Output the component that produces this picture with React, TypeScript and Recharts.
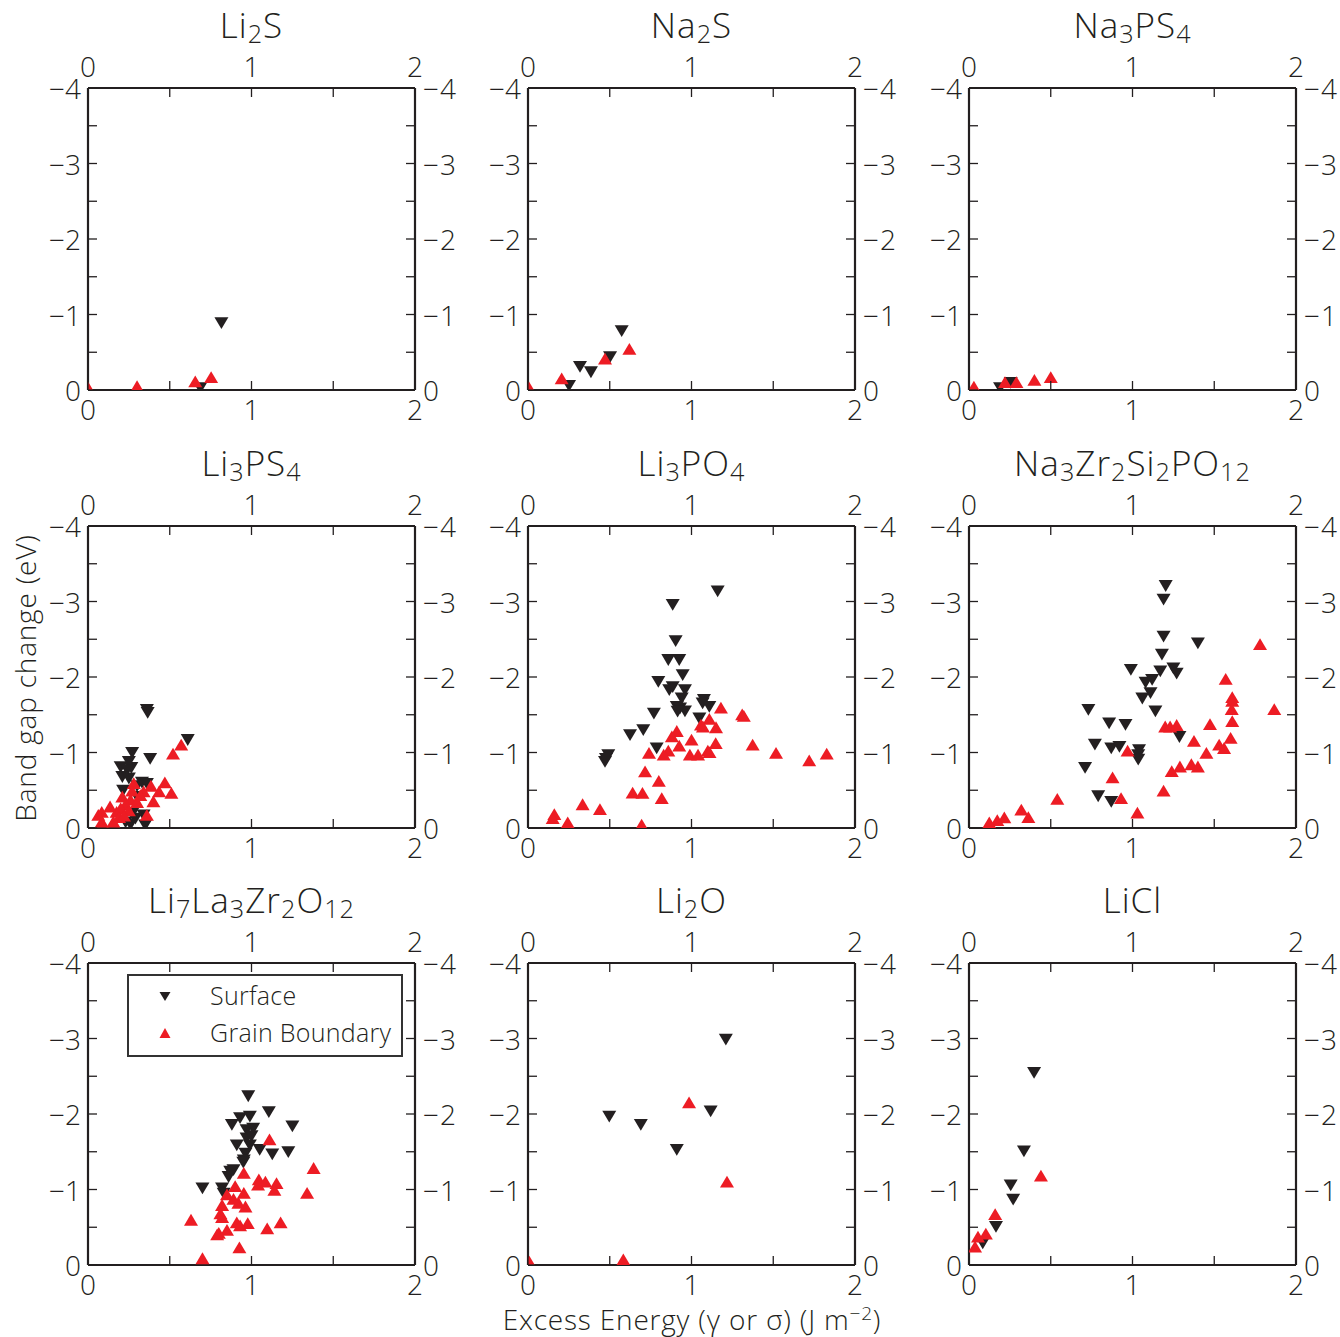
import React from 'react';
import { ScatterChart, Scatter, XAxis, YAxis } from 'recharts';

type P = [number, number];

const panelTitles = ['Li2S', 'Na2S', 'Na3PS4', 'Li3PS4', 'Li3PO4', 'Na3Zr2Si2PO12', 'Li7La3Zr2O12', 'Li2O', 'LiCl'];
const xTicks = [0, 0.5, 1, 1.5, 2];
const yTicks = [-4, -3.5, -3, -2.5, -2, -1.5, -1, -0.5, 0];
const xAxisLabel = 'Excess Energy (γ or σ) (J m';
const yAxisLabel = 'Band gap change (eV)';
const legendLabels = ['Surface', 'Grain Boundary'];

const li2sSurface: P[] = [[0.816, -0.9], [0.687, -0.04]];
const li2sGB: P[] = [[0.656, -0.1], [0.753, -0.155], [0.3, -0.035], [0.0, -0.02]];

const na2sSurface: P[] = [[0.573, -0.795], [0.502, -0.45], [0.318, -0.32], [0.385, -0.25], [0.251, -0.07]];
const na2sGB: P[] = [[0.62, -0.53], [0.471, -0.4], [0.206, -0.14], [0.006, -0.02]];

const na3ps4Surface: P[] = [[0.255, -0.11], [0.19, -0.04]];
const na3ps4GB: P[] = [[0.03, -0.03], [0.22, -0.09], [0.29, -0.09], [0.4, -0.12], [0.5, -0.155]];

const li3ps4Surface: P[] = [
  [0.36, -1.58], [0.365, -1.54], [0.61, -1.18], [0.27, -1.01], [0.38, -0.93], [0.2, -0.82], [0.25, -0.89],
  [0.265, -0.81], [0.21, -0.69], [0.25, -0.67], [0.33, -0.615], [0.36, -0.6], [0.215, -0.51], [0.3, -0.425],
  [0.34, -0.18], [0.29, -0.14], [0.23, -0.09], [0.35, -0.05], [0.26, -0.06], [0.24, -0.78], [0.3, -0.57], [0.27, -0.2],
];
const li3ps4GB: P[] = [
  [0.57, -1.09], [0.52, -0.97], [0.47, -0.59], [0.385, -0.545], [0.28, -0.58], [0.435, -0.47], [0.51, -0.45],
  [0.34, -0.47], [0.21, -0.4], [0.26, -0.36], [0.4, -0.34], [0.135, -0.27], [0.084, -0.2], [0.063, -0.16],
  [0.175, -0.2], [0.36, -0.16], [0.084, -0.07], [0.155, -0.07], [0.23, -0.3], [0.3, -0.33], [0.2, -0.25],
  [0.25, -0.22], [0.19, -0.13], [0.32, -0.42], [0.27, -0.48], [0.22, -0.15],
];

const li3po4Surface: P[] = [
  [1.16, -3.15], [0.885, -2.97], [0.903, -2.49], [0.858, -2.24], [0.925, -2.24], [0.946, -2.04], [0.797, -1.95],
  [0.885, -1.88], [0.864, -1.84], [0.96, -1.84], [0.94, -1.73], [1.076, -1.71], [1.068, -1.665], [1.109, -1.62],
  [0.91, -1.62], [0.93, -1.6], [0.96, -1.56], [0.915, -1.555], [0.77, -1.53], [1.048, -1.465], [0.705, -1.31],
  [0.624, -1.245], [0.787, -1.07], [0.491, -0.98], [0.477, -0.93], [0.471, -0.89],
];
const li3po4GB: P[] = [
  [1.18, -1.58], [1.31, -1.49], [1.32, -1.47], [1.109, -1.43], [1.058, -1.355], [1.07, -1.33], [1.15, -1.32],
  [0.91, -1.27], [0.88, -1.2], [1.0, -1.156], [1.148, -1.11], [1.374, -1.09], [0.925, -1.076], [0.858, -1.01],
  [1.1, -1.01], [0.74, -0.98], [1.517, -0.98], [0.83, -0.957], [0.99, -0.957], [1.04, -0.957], [1.827, -0.97],
  [1.11, -0.99], [1.72, -0.88], [0.716, -0.735], [0.8, -0.61], [0.64, -0.455], [0.7, -0.45], [0.818, -0.38],
  [0.334, -0.3], [0.44, -0.235], [0.161, -0.17], [0.151, -0.115], [0.243, -0.06], [0.695, -0.03],
];

const nzspSurface: P[] = [
  [1.203, -3.22], [1.19, -3.04], [1.19, -2.55], [1.4, -2.46], [1.18, -2.31], [0.99, -2.11], [1.17, -2.09],
  [1.25, -2.13], [1.27, -2.06], [1.12, -1.976], [1.08, -1.94], [1.11, -1.8], [1.06, -1.73], [0.73, -1.58],
  [1.14, -1.56], [0.857, -1.4], [0.957, -1.38], [1.287, -1.22], [0.77, -1.12], [0.87, -1.07], [0.92, -1.09],
  [1.04, -1.045], [1.035, -0.98], [1.035, -0.92], [0.71, -0.81], [0.79, -0.435], [0.87, -0.36],
];
const nzspGB: P[] = [
  [1.78, -2.42], [1.867, -1.56], [1.57, -1.96], [1.61, -1.72], [1.61, -1.67], [1.607, -1.56], [1.61, -1.4],
  [1.474, -1.36], [1.2, -1.33], [1.23, -1.33], [1.27, -1.35], [1.6, -1.18], [1.376, -1.14], [1.53, -1.09],
  [1.56, -1.045], [0.97, -1.01], [1.452, -0.98], [1.36, -0.83], [1.4, -0.8], [1.29, -0.8], [1.24, -0.74],
  [0.878, -0.655], [1.19, -0.48], [0.93, -0.38], [0.54, -0.37], [1.03, -0.19], [0.32, -0.23], [0.363, -0.13],
  [0.216, -0.125], [0.173, -0.09], [0.124, -0.06],
];

const llzoSurface: P[] = [
  [0.98, -2.25], [1.106, -2.04], [0.93, -1.96], [0.99, -1.98], [1.25, -1.85], [0.88, -1.87], [0.97, -1.8],
  [1.01, -1.82], [0.97, -1.69], [1.0, -1.72], [0.91, -1.6], [0.99, -1.6], [1.05, -1.54], [1.127, -1.48],
  [1.225, -1.51], [0.963, -1.49], [0.953, -1.4], [0.95, -1.37], [0.89, -1.27], [0.87, -1.25], [0.86, -1.18],
  [0.7, -1.03], [0.82, -1.03], [0.83, -0.96],
];
const llzoGB: P[] = [
  [1.11, -1.65], [1.38, -1.27], [0.953, -1.205], [1.045, -1.12], [1.085, -1.09], [1.153, -1.07], [1.04, -1.05],
  [1.14, -0.98], [0.9, -1.03], [1.34, -0.94], [0.85, -0.92], [0.953, -0.94], [0.92, -0.81], [0.89, -0.86],
  [0.963, -0.76], [0.82, -0.78], [0.81, -0.67], [0.82, -0.62], [0.63, -0.585], [0.91, -0.55], [0.977, -0.54],
  [1.178, -0.55], [0.93, -0.51], [1.096, -0.47], [0.85, -0.45], [0.8, -0.41], [0.79, -0.39], [0.926, -0.22],
  [0.7, -0.075],
];

const li2oSurface: P[] = [[1.21, -3.0], [0.497, -1.98], [0.69, -1.87], [1.117, -2.05], [0.91, -1.54]];
const li2oGB: P[] = [[0.985, -2.14], [1.217, -1.09], [0.583, -0.06], [0.008, -0.03]];

const liclSurface: P[] = [[0.398, -2.56], [0.336, -1.52], [0.255, -1.07], [0.27, -0.88], [0.165, -0.52], [0.084, -0.3]];
const liclGB: P[] = [[0.44, -1.17], [0.16, -0.66], [0.103, -0.4], [0.055, -0.36], [0.037, -0.23]];

const surfaceSets = [li2sSurface, na2sSurface, na3ps4Surface, li3ps4Surface, li3po4Surface, nzspSurface, llzoSurface, li2oSurface, liclSurface];
const gbSets = [li2sGB, na2sGB, na3ps4GB, li3ps4GB, li3po4GB, nzspGB, llzoGB, li2oGB, liclGB];

const FONT = "'Open Sans', Roboto, 'Liberation Sans', Arial, sans-serif";
const TEXT = '#231F20';
const BLACK = '#231F20';
const RED = '#ED1C24';
const TICK_FS = 28;

const colPlotLeft = [88, 528, 969];
const rowPlotTop = [88, 526, 963];
const PLOT_W = 327;
const PLOT_H = 302;
const M = { top: 58, right: 20, bottom: 10, left: 20 };
const AX = 40;
const AXH = 30;
const CHART_W = M.left + AX + PLOT_W + AX + M.right;
const CHART_H = M.top + AXH + PLOT_H + AXH + M.bottom;

const fmt = (v: number) => (Number.isInteger(v) ? (v < 0 ? '\u2212' + Math.abs(v) : String(v)) : '');

const makeTick = (side: 'top' | 'bottom' | 'left' | 'right') => (props: any) => {
  const { x, y, payload } = props;
  const v = payload.value as number;
  const label = fmt(v);
  const L = 9;
  let line: [number, number, number, number];
  let tx = x;
  let ty = y;
  let anchor: 'start' | 'middle' | 'end' = 'middle';
  if (side === 'bottom') { line = [x, y, x, y - L]; ty = y + 19; }
  else if (side === 'top') { line = [x, y, x, y + L]; ty = y - 22; }
  else if (side === 'left') { line = [x, y, x + L, y]; tx = x - 7; anchor = 'end'; }
  else { line = [x, y, x - L, y]; tx = x + 8; anchor = 'start'; }
  return (
    <g>
      <line x1={line[0]} y1={line[1]} x2={line[2]} y2={line[3]} stroke={BLACK} strokeWidth={1.3} />
      {label !== '' && (
        <text x={tx} y={ty} textAnchor={anchor} dominantBaseline="central" fontSize={TICK_FS}
          fontFamily={FONT} fontWeight={300} fill={TEXT} letterSpacing={side === 'right' ? 1 : 0}>{label}</text>
      )}
    </g>
  );
};

const DownTri = (props: any) => {
  const { cx, cy } = props;
  if (cx == null || cy == null) return <g />;
  return <polygon points={`${cx - 7},${cy - 4.8} ${cx + 7},${cy - 4.8} ${cx},${cy + 7}`} fill={BLACK} />;
};
const UpTri = (props: any) => {
  const { cx, cy } = props;
  if (cx == null || cy == null) return <g />;
  return <polygon points={`${cx - 7},${cy + 4.8} ${cx + 7},${cy + 4.8} ${cx},${cy - 7}`} fill={RED} />;
};
const NoShape = () => <g />;

const toObj = (arr: P[]) => arr.map(([x, y]) => ({ x, y }));

const Title = ({ name }: { name: string }) => {
  const parts = name.match(/[A-Za-z]+|\d+/g) || [];
  return (
    <span>
      {parts.map((p, i) =>
        /\d/.test(p) ? (
          <span key={i} style={{ fontSize: '0.72em', verticalAlign: '-0.18em', lineHeight: 0 }}>{p}</span>
        ) : (
          <span key={i}>{p}</span>
        )
      )}
    </span>
  );
};

const axisLine = { stroke: BLACK, strokeWidth: 2.2 };

const Panel = ({ idx }: { idx: number }) => {
  const col = idx % 3;
  const row = Math.floor(idx / 3);
  const left = colPlotLeft[col] - M.left - AX;
  const top = rowPlotTop[row] - M.top - AXH;
  const surf = toObj(surfaceSets[idx]);
  const gb = toObj(gbSets[idx]);
  return (
    <div style={{ position: 'absolute', left, top, width: CHART_W, height: CHART_H }}>
      <div style={{
        position: 'absolute', left: M.left + AX, width: PLOT_W, top: 9, textAlign: 'center',
        fontFamily: FONT, fontWeight: 300, fontSize: 35, letterSpacing: 1, color: TEXT, lineHeight: '32px',
        height: 32,
      }}>
        <Title name={panelTitles[idx]} />
      </div>
      <ScatterChart width={CHART_W} height={CHART_H} margin={M}>
        <XAxis xAxisId="b" dataKey="x" type="number" orientation="bottom" domain={[0, 2]} ticks={xTicks}
          allowDataOverflow height={AXH} tickSize={0} tickMargin={0} tickLine={false} axisLine={axisLine}
          tick={makeTick('bottom')} interval={0} />
        <XAxis xAxisId="t" dataKey="x" type="number" orientation="top" domain={[0, 2]} ticks={xTicks}
          allowDataOverflow height={AXH} tickSize={0} tickMargin={0} tickLine={false} axisLine={axisLine}
          tick={makeTick('top')} interval={0} />
        <YAxis yAxisId="l" dataKey="y" type="number" orientation="left" domain={[-4, 0]} ticks={yTicks} reversed
          allowDataOverflow width={AX} tickSize={0} tickMargin={0} tickLine={false} axisLine={axisLine}
          tick={makeTick('left')} interval={0} />
        <YAxis yAxisId="r" dataKey="y" type="number" orientation="right" domain={[-4, 0]} ticks={yTicks} reversed
          allowDataOverflow width={AX} tickSize={0} tickMargin={0} tickLine={false} axisLine={axisLine}
          tick={makeTick('right')} interval={0} />
        <Scatter data={surf} xAxisId="t" yAxisId="r" shape={NoShape} isAnimationActive={false} legendType="none" />
        <Scatter name="Surface" data={surf} xAxisId="b" yAxisId="l" shape={DownTri} isAnimationActive={false} />
        <Scatter name="Grain Boundary" data={gb} xAxisId="b" yAxisId="l" shape={UpTri} isAnimationActive={false} />
      </ScatterChart>
    </div>
  );
};

const LegendBox = () => (
  <div style={{
    position: 'absolute', left: 127, top: 974, width: 272, height: 79, border: '2px solid #333',
    background: '#fff', fontFamily: FONT, fontWeight: 300, fontSize: 25, letterSpacing: 0.3, color: TEXT,
  }}>
    <svg width={30} height={80} style={{ position: 'absolute', left: 21, top: 0 }}>
      <polygon points="9.5,16 20.5,16 15,25" fill={BLACK} />
      <polygon points="9.5,62 20.5,62 15,52" fill={RED} />
    </svg>
    <div style={{ position: 'absolute', left: 81, top: 4, lineHeight: '30px' }}>{legendLabels[0]}</div>
    <div style={{ position: 'absolute', left: 81, top: 41, lineHeight: '30px' }}>{legendLabels[1]}</div>
  </div>
);

export default function App() {
  return (
    <div style={{ position: 'absolute', left: 0, top: 0, width: 1340, height: 1337, background: '#fff', overflow: 'hidden' }}>
      {panelTitles.map((_, i) => <Panel key={i} idx={i} />)}
      <LegendBox />
      <div style={{
        position: 'absolute', left: 25, top: 678, transform: 'translate(-50%, -50%) rotate(-90deg)',
        whiteSpace: 'nowrap', fontFamily: FONT, fontWeight: 300, fontSize: 28, letterSpacing: 0.8, color: TEXT,
        lineHeight: '30px',
      }}>{yAxisLabel}</div>
      <div style={{
        position: 'absolute', left: 692, top: 1319, transform: 'translate(-50%, -50%)',
        whiteSpace: 'nowrap', fontFamily: FONT, fontWeight: 300, fontSize: 28, letterSpacing: 0.8, color: TEXT,
        lineHeight: '30px',
      }}>{xAxisLabel}<sup style={{ fontSize: '0.68em', lineHeight: 0 }}>{'\u22122'}</sup>)</div>
    </div>
  );
}
